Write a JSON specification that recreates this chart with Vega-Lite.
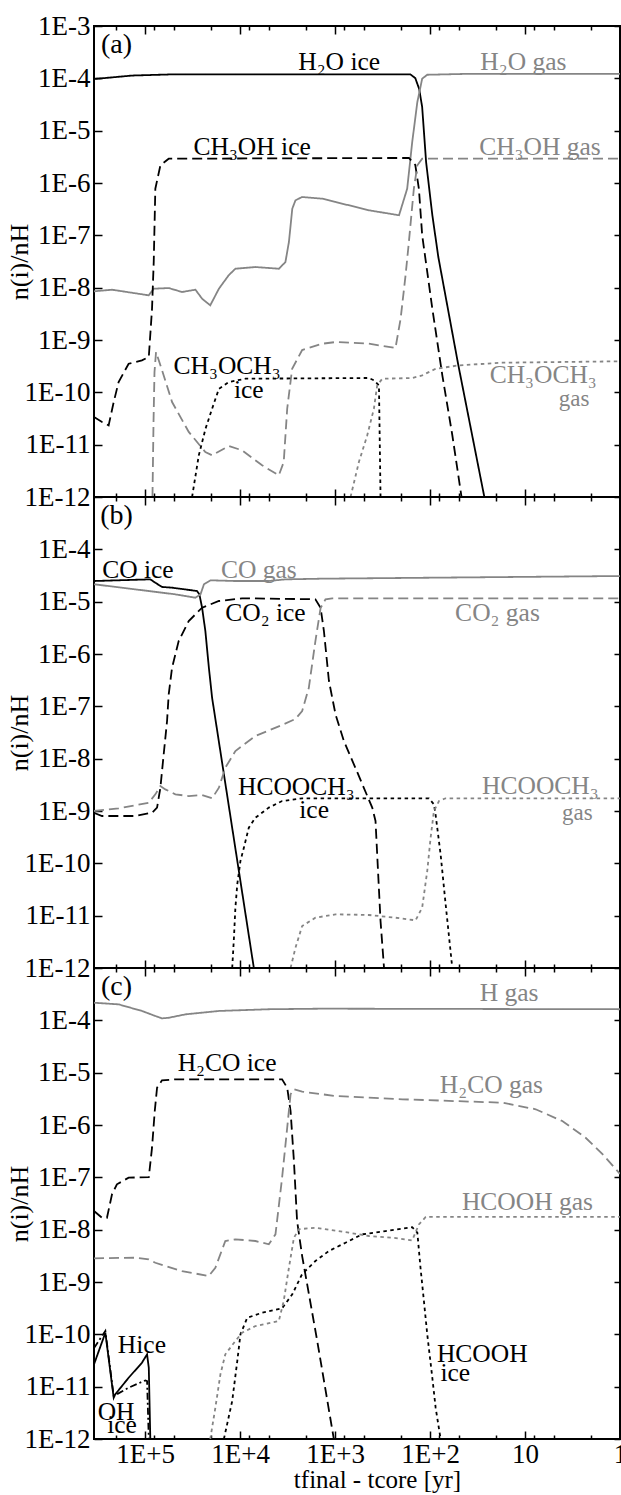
{
"$schema": "https://vega.github.io/schema/vega-lite/v6.json",
"bounds": "flush",
"spacing": 0,
"padding": {"left": 5, "top": 11, "right": 0, "bottom": 0},
"config": {
  "font": "Liberation Serif",
  "view": {"stroke": "black", "strokeWidth": 2},
  "axis": {"labelFont": "Liberation Serif", "titleFont": "Liberation Serif", "labelFontSize": 27, "titleFontSize": 26, "titleFontWeight": "normal", "labelColor": "black", "titleColor": "black", "tickColor": "black", "tickWidth": 1.5, "domain": false, "grid": false, "labelFlush": false, "labelOverlap": false, "labelBound": false},
  "text": {"font": "Liberation Serif"}
},
"datasets": {
"lines": [
{"p":"a","s":"H2O ice","ph":"ice","st":"solid","t":3.45e5,"n":9.7e-5},
{"p":"a","s":"H2O ice","ph":"ice","st":"solid","t":1.37e5,"n":1.13e-4},
{"p":"a","s":"H2O ice","ph":"ice","st":"solid","t":5.2e4,"n":1.19e-4},
{"p":"a","s":"H2O ice","ph":"ice","st":"solid","t":161,"n":1.19e-4},
{"p":"a","s":"H2O ice","ph":"ice","st":"solid","t":143,"n":1.01e-4},
{"p":"a","s":"H2O ice","ph":"ice","st":"solid","t":130,"n":6.25e-5},
{"p":"a","s":"H2O ice","ph":"ice","st":"solid","t":121,"n":2.83e-5},
{"p":"a","s":"H2O ice","ph":"ice","st":"solid","t":110,"n":2.52e-6},
{"p":"a","s":"H2O ice","ph":"ice","st":"solid","t":94.6,"n":2.44e-7},
{"p":"a","s":"H2O ice","ph":"ice","st":"solid","t":81.8,"n":3.85e-8},
{"p":"a","s":"H2O ice","ph":"ice","st":"solid","t":50.4,"n":3.33e-10},
{"p":"a","s":"H2O ice","ph":"ice","st":"solid","t":26.8,"n":1e-12},
{"p":"a","s":"H2O gas","ph":"gas","st":"solid","t":3.45e5,"n":8.51e-9},
{"p":"a","s":"H2O gas","ph":"gas","st":"solid","t":2.23e5,"n":9.14e-9},
{"p":"a","s":"H2O gas","ph":"gas","st":"solid","t":9.16e4,"n":7.14e-9},
{"p":"a","s":"H2O gas","ph":"gas","st":"solid","t":8.11e4,"n":9.55e-9},
{"p":"a","s":"H2O gas","ph":"gas","st":"solid","t":5.64e4,"n":9.84e-9},
{"p":"a","s":"H2O gas","ph":"gas","st":"solid","t":4.08e4,"n":8.26e-9},
{"p":"a","s":"H2O gas","ph":"gas","st":"solid","t":2.95e4,"n":9.14e-9},
{"p":"a","s":"H2O gas","ph":"gas","st":"solid","t":2.51e4,"n":6.15e-9},
{"p":"a","s":"H2O gas","ph":"gas","st":"solid","t":2.06e4,"n":4.6e-9},
{"p":"a","s":"H2O gas","ph":"gas","st":"solid","t":1.67e4,"n":9.55e-9},
{"p":"a","s":"H2O gas","ph":"gas","st":"solid","t":1.32e4,"n":1.72e-8},
{"p":"a","s":"H2O gas","ph":"gas","st":"solid","t":1.12e4,"n":2.3e-8},
{"p":"a","s":"H2O gas","ph":"gas","st":"solid","t":6.89e3,"n":2.48e-8},
{"p":"a","s":"H2O gas","ph":"gas","st":"solid","t":3.9e3,"n":2.3e-8},
{"p":"a","s":"H2O gas","ph":"gas","st":"solid","t":3.33e3,"n":3.09e-8},
{"p":"a","s":"H2O gas","ph":"gas","st":"solid","t":3.06e3,"n":7.45e-8},
{"p":"a","s":"H2O gas","ph":"gas","st":"solid","t":2.82e3,"n":3.23e-7},
{"p":"a","s":"H2O gas","ph":"gas","st":"solid","t":2.61e3,"n":4.67e-7},
{"p":"a","s":"H2O gas","ph":"gas","st":"solid","t":2.22e3,"n":5.4e-7},
{"p":"a","s":"H2O gas","ph":"gas","st":"solid","t":1.36e3,"n":5.01e-7},
{"p":"a","s":"H2O gas","ph":"gas","st":"solid","t":989,"n":4.34e-7},
{"p":"a","s":"H2O gas","ph":"gas","st":"solid","t":440,"n":3.01e-7},
{"p":"a","s":"H2O gas","ph":"gas","st":"solid","t":212,"n":2.42e-7},
{"p":"a","s":"H2O gas","ph":"gas","st":"solid","t":174,"n":7.78e-7},
{"p":"a","s":"H2O gas","ph":"gas","st":"solid","t":154,"n":6.07e-6},
{"p":"a","s":"H2O gas","ph":"gas","st":"solid","t":136,"n":3.53e-5},
{"p":"a","s":"H2O gas","ph":"gas","st":"solid","t":121,"n":9.84e-5},
{"p":"a","s":"H2O gas","ph":"gas","st":"solid","t":107,"n":1.17e-4},
{"p":"a","s":"H2O gas","ph":"gas","st":"solid","t":38.9,"n":1.22e-4},
{"p":"a","s":"H2O gas","ph":"gas","st":"solid","t":1,"n":1.22e-4},
{"p":"a","s":"CH3OH ice","ph":"ice","st":"dashed","t":3.45e5,"n":3.37e-11},
{"p":"a","s":"CH3OH ice","ph":"ice","st":"dashed","t":2.84e5,"n":2.71e-11},
{"p":"a","s":"CH3OH ice","ph":"ice","st":"dashed","t":2.42e5,"n":2.34e-11},
{"p":"a","s":"CH3OH ice","ph":"ice","st":"dashed","t":2.14e5,"n":6.53e-11},
{"p":"a","s":"CH3OH ice","ph":"ice","st":"dashed","t":1.9e5,"n":1.57e-10},
{"p":"a","s":"CH3OH ice","ph":"ice","st":"dashed","t":1.49e5,"n":3.52e-10},
{"p":"a","s":"CH3OH ice","ph":"ice","st":"dashed","t":1.08e5,"n":4.08e-10},
{"p":"a","s":"CH3OH ice","ph":"ice","st":"dashed","t":9.14e4,"n":4.73e-10},
{"p":"a","s":"CH3OH ice","ph":"ice","st":"dashed","t":8.45e4,"n":3.96e-9},
{"p":"a","s":"CH3OH ice","ph":"ice","st":"dashed","t":8.11e4,"n":3.09e-8},
{"p":"a","s":"CH3OH ice","ph":"ice","st":"dashed","t":7.8e4,"n":7.78e-7},
{"p":"a","s":"CH3OH ice","ph":"ice","st":"dashed","t":6.9e4,"n":2.18e-6},
{"p":"a","s":"CH3OH ice","ph":"ice","st":"dashed","t":5.64e4,"n":2.91e-6},
{"p":"a","s":"CH3OH ice","ph":"ice","st":"dashed","t":167,"n":3.01e-6},
{"p":"a","s":"CH3OH ice","ph":"ice","st":"dashed","t":143,"n":2.21e-6},
{"p":"a","s":"CH3OH ice","ph":"ice","st":"dashed","t":131,"n":7.78e-7},
{"p":"a","s":"CH3OH ice","ph":"ice","st":"dashed","t":121,"n":1.01e-7},
{"p":"a","s":"CH3OH ice","ph":"ice","st":"dashed","t":94.6,"n":3.96e-9},
{"p":"a","s":"CH3OH ice","ph":"ice","st":"dashed","t":74.3,"n":2.14e-10},
{"p":"a","s":"CH3OH ice","ph":"ice","st":"dashed","t":58.3,"n":1.53e-11},
{"p":"a","s":"CH3OH ice","ph":"ice","st":"dashed","t":46.6,"n":1e-12},
{"p":"a","s":"CH3OH gas","ph":"gas","st":"dashed","t":8.36e4,"n":1e-12},
{"p":"a","s":"CH3OH gas","ph":"gas","st":"dashed","t":8.15e4,"n":2.71e-11},
{"p":"a","s":"CH3OH gas","ph":"gas","st":"dashed","t":7.96e4,"n":2.44e-10},
{"p":"a","s":"CH3OH gas","ph":"gas","st":"dashed","t":7.67e4,"n":5.89e-10},
{"p":"a","s":"CH3OH gas","ph":"gas","st":"dashed","t":6.64e4,"n":2.67e-10},
{"p":"a","s":"CH3OH gas","ph":"gas","st":"dashed","t":5.2e4,"n":6.53e-11},
{"p":"a","s":"CH3OH gas","ph":"gas","st":"dashed","t":3.47e4,"n":1.75e-11},
{"p":"a","s":"CH3OH gas","ph":"gas","st":"dashed","t":2.32e4,"n":7.23e-12},
{"p":"a","s":"CH3OH gas","ph":"gas","st":"dashed","t":1.97e4,"n":6.25e-12},
{"p":"a","s":"CH3OH gas","ph":"gas","st":"dashed","t":1.32e4,"n":9.42e-12},
{"p":"a","s":"CH3OH gas","ph":"gas","st":"dashed","t":9.53e3,"n":7.8e-12},
{"p":"a","s":"CH3OH gas","ph":"gas","st":"dashed","t":5.86e3,"n":4.03e-12},
{"p":"a","s":"CH3OH gas","ph":"gas","st":"dashed","t":3.91e3,"n":2.59e-12},
{"p":"a","s":"CH3OH gas","ph":"gas","st":"dashed","t":3.47e3,"n":4.66e-12},
{"p":"a","s":"CH3OH gas","ph":"gas","st":"dashed","t":3.19e3,"n":4.86e-11},
{"p":"a","s":"CH3OH gas","ph":"gas","st":"dashed","t":2.83e3,"n":2.82e-10},
{"p":"a","s":"CH3OH gas","ph":"gas","st":"dashed","t":2.22e3,"n":6.43e-10},
{"p":"a","s":"CH3OH gas","ph":"gas","st":"dashed","t":1.36e3,"n":8.49e-10},
{"p":"a","s":"CH3OH gas","ph":"gas","st":"dashed","t":989,"n":9.14e-10},
{"p":"a","s":"CH3OH gas","ph":"gas","st":"dashed","t":440,"n":8.49e-10},
{"p":"a","s":"CH3OH gas","ph":"gas","st":"dashed","t":231,"n":7.03e-10},
{"p":"a","s":"CH3OH gas","ph":"gas","st":"dashed","t":204,"n":2.55e-9},
{"p":"a","s":"CH3OH gas","ph":"gas","st":"dashed","t":181,"n":1.72e-8},
{"p":"a","s":"CH3OH gas","ph":"gas","st":"dashed","t":169,"n":5.98e-8},
{"p":"a","s":"CH3OH gas","ph":"gas","st":"dashed","t":148,"n":7.78e-7},
{"p":"a","s":"CH3OH gas","ph":"gas","st":"dashed","t":136,"n":2.18e-6},
{"p":"a","s":"CH3OH gas","ph":"gas","st":"dashed","t":121,"n":2.91e-6},
{"p":"a","s":"CH3OH gas","ph":"gas","st":"dashed","t":1,"n":2.91e-6},
{"p":"a","s":"CH3OCH3 ice","ph":"ice","st":"dotted","t":3.2e4,"n":1e-12},
{"p":"a","s":"CH3OCH3 ice","ph":"ice","st":"dotted","t":2.72e4,"n":6.25e-12},
{"p":"a","s":"CH3OCH3 ice","ph":"ice","st":"dotted","t":2.31e4,"n":2.02e-11},
{"p":"a","s":"CH3OCH3 ice","ph":"ice","st":"dotted","t":1.97e4,"n":4.86e-11},
{"p":"a","s":"CH3OCH3 ice","ph":"ice","st":"dotted","t":1.67e4,"n":1.17e-10},
{"p":"a","s":"CH3OCH3 ice","ph":"ice","st":"dotted","t":1.32e4,"n":1.57e-10},
{"p":"a","s":"CH3OCH3 ice","ph":"ice","st":"dotted","t":8.79e3,"n":1.82e-10},
{"p":"a","s":"CH3OCH3 ice","ph":"ice","st":"dotted","t":440,"n":1.88e-10},
{"p":"a","s":"CH3OCH3 ice","ph":"ice","st":"dotted","t":390,"n":1.7e-10},
{"p":"a","s":"CH3OCH3 ice","ph":"ice","st":"dotted","t":345,"n":1.36e-10},
{"p":"a","s":"CH3OCH3 ice","ph":"ice","st":"dotted","t":332,"n":1e-12},
{"p":"a","s":"CH3OCH3 gas","ph":"gas","st":"dotted","t":687,"n":1e-12},
{"p":"a","s":"CH3OCH3 gas","ph":"gas","st":"dotted","t":561,"n":4.66e-12},
{"p":"a","s":"CH3OCH3 gas","ph":"gas","st":"dotted","t":458,"n":1.51e-11},
{"p":"a","s":"CH3OCH3 gas","ph":"gas","st":"dotted","t":390,"n":4.86e-11},
{"p":"a","s":"CH3OCH3 gas","ph":"gas","st":"dotted","t":360,"n":1.36e-10},
{"p":"a","s":"CH3OCH3 gas","ph":"gas","st":"dotted","t":318,"n":1.82e-10},
{"p":"a","s":"CH3OCH3 gas","ph":"gas","st":"dotted","t":154,"n":1.88e-10},
{"p":"a","s":"CH3OCH3 gas","ph":"gas","st":"dotted","t":121,"n":2.11e-10},
{"p":"a","s":"CH3OCH3 gas","ph":"gas","st":"dotted","t":87.3,"n":2.82e-10},
{"p":"a","s":"CH3OCH3 gas","ph":"gas","st":"dotted","t":49.5,"n":3.28e-10},
{"p":"a","s":"CH3OCH3 gas","ph":"gas","st":"dotted","t":17.3,"n":3.68e-10},
{"p":"a","s":"CH3OCH3 gas","ph":"gas","st":"dotted","t":1,"n":3.92e-10},
{"p":"b","s":"CO ice","ph":"ice","st":"solid","t":3.45e5,"n":2.48e-5},
{"p":"b","s":"CO ice","ph":"ice","st":"solid","t":8.81e4,"n":2.67e-5},
{"p":"b","s":"CO ice","ph":"ice","st":"solid","t":7.8e4,"n":2.3e-5},
{"p":"b","s":"CO ice","ph":"ice","st":"solid","t":6.64e4,"n":1.91e-5},
{"p":"b","s":"CO ice","ph":"ice","st":"solid","t":5.2e4,"n":1.85e-5},
{"p":"b","s":"CO ice","ph":"ice","st":"solid","t":2.84e4,"n":1.6e-5},
{"p":"b","s":"CO ice","ph":"ice","st":"solid","t":2.68e4,"n":1.38e-5},
{"p":"b","s":"CO ice","ph":"ice","st":"solid","t":2.51e4,"n":7.66e-6},
{"p":"b","s":"CO ice","ph":"ice","st":"solid","t":2.32e4,"n":2.75e-6},
{"p":"b","s":"CO ice","ph":"ice","st":"solid","t":2.13e4,"n":5.47e-7},
{"p":"b","s":"CO ice","ph":"ice","st":"solid","t":1.97e4,"n":1.46e-7},
{"p":"b","s":"CO ice","ph":"ice","st":"solid","t":7.16e3,"n":1e-12},
{"p":"b","s":"CO gas","ph":"gas","st":"solid","t":3.45e5,"n":2.15e-5},
{"p":"b","s":"CO gas","ph":"gas","st":"solid","t":1.27e5,"n":1.72e-5},
{"p":"b","s":"CO gas","ph":"gas","st":"solid","t":4.8e4,"n":1.38e-5},
{"p":"b","s":"CO gas","ph":"gas","st":"solid","t":2.95e4,"n":1.19e-5},
{"p":"b","s":"CO gas","ph":"gas","st":"solid","t":2.61e4,"n":1.38e-5},
{"p":"b","s":"CO gas","ph":"gas","st":"solid","t":2.4e4,"n":2.15e-5},
{"p":"b","s":"CO gas","ph":"gas","st":"solid","t":2.05e4,"n":2.56e-5},
{"p":"b","s":"CO gas","ph":"gas","st":"solid","t":1.12e4,"n":2.48e-5},
{"p":"b","s":"CO gas","ph":"gas","st":"solid","t":4.98e3,"n":2.48e-5},
{"p":"b","s":"CO gas","ph":"gas","st":"solid","t":3.33e3,"n":2.67e-5},
{"p":"b","s":"CO gas","ph":"gas","st":"solid","t":1.36e3,"n":2.75e-5},
{"p":"b","s":"CO gas","ph":"gas","st":"solid","t":1,"n":3.09e-5},
{"p":"b","s":"CO2 ice","ph":"ice","st":"dashed","t":3.45e5,"n":9.27e-10},
{"p":"b","s":"CO2 ice","ph":"ice","st":"dashed","t":2.84e5,"n":8.02e-10},
{"p":"b","s":"CO2 ice","ph":"ice","st":"dashed","t":1.27e5,"n":8.02e-10},
{"p":"b","s":"CO2 ice","ph":"ice","st":"dashed","t":8.45e4,"n":9.27e-10},
{"p":"b","s":"CO2 ice","ph":"ice","st":"dashed","t":7.48e4,"n":1.16e-9},
{"p":"b","s":"CO2 ice","ph":"ice","st":"dashed","t":6.9e4,"n":2.79e-9},
{"p":"b","s":"CO2 ice","ph":"ice","st":"dashed","t":6.37e4,"n":1.21e-8},
{"p":"b","s":"CO2 ice","ph":"ice","st":"dashed","t":5.87e4,"n":5.24e-8},
{"p":"b","s":"CO2 ice","ph":"ice","st":"dashed","t":5.64e4,"n":1.7e-7},
{"p":"b","s":"CO2 ice","ph":"ice","st":"dashed","t":5.2e4,"n":5.47e-7},
{"p":"b","s":"CO2 ice","ph":"ice","st":"dashed","t":4.43e4,"n":1.77e-6},
{"p":"b","s":"CO2 ice","ph":"ice","st":"dashed","t":3.47e4,"n":4.27e-6},
{"p":"b","s":"CO2 ice","ph":"ice","st":"dashed","t":2.51e4,"n":7.67e-6},
{"p":"b","s":"CO2 ice","ph":"ice","st":"dashed","t":1.67e4,"n":1.03e-5},
{"p":"b","s":"CO2 ice","ph":"ice","st":"dashed","t":9.53e3,"n":1.16e-5},
{"p":"b","s":"CO2 ice","ph":"ice","st":"dashed","t":1.61e3,"n":1.11e-5},
{"p":"b","s":"CO2 ice","ph":"ice","st":"dashed","t":1.42e3,"n":7.67e-6},
{"p":"b","s":"CO2 ice","ph":"ice","st":"dashed","t":1.31e3,"n":2.75e-6},
{"p":"b","s":"CO2 ice","ph":"ice","st":"dashed","t":1.16e3,"n":3.05e-7},
{"p":"b","s":"CO2 ice","ph":"ice","st":"dashed","t":989,"n":7.05e-8},
{"p":"b","s":"CO2 ice","ph":"ice","st":"dashed","t":807,"n":2.17e-8},
{"p":"b","s":"CO2 ice","ph":"ice","st":"dashed","t":585,"n":5.56e-9},
{"p":"b","s":"CO2 ice","ph":"ice","st":"dashed","t":406,"n":1.16e-9},
{"p":"b","s":"CO2 ice","ph":"ice","st":"dashed","t":375,"n":6.44e-10},
{"p":"b","s":"CO2 ice","ph":"ice","st":"dashed","t":332,"n":7.91e-12},
{"p":"b","s":"CO2 ice","ph":"ice","st":"dashed","t":305,"n":1e-12},
{"p":"b","s":"CO2 gas","ph":"gas","st":"dashed","t":3.45e5,"n":1.0e-9},
{"p":"b","s":"CO2 gas","ph":"gas","st":"dashed","t":1.9e5,"n":1.12e-9},
{"p":"b","s":"CO2 gas","ph":"gas","st":"dashed","t":9.16e4,"n":1.44e-9},
{"p":"b","s":"CO2 gas","ph":"gas","st":"dashed","t":7.8e4,"n":2.08e-9},
{"p":"b","s":"CO2 gas","ph":"gas","st":"dashed","t":6.9e4,"n":3.0e-9},
{"p":"b","s":"CO2 gas","ph":"gas","st":"dashed","t":6.12e4,"n":2.59e-9},
{"p":"b","s":"CO2 gas","ph":"gas","st":"dashed","t":4.8e4,"n":2.08e-9},
{"p":"b","s":"CO2 gas","ph":"gas","st":"dashed","t":3.47e4,"n":1.93e-9},
{"p":"b","s":"CO2 gas","ph":"gas","st":"dashed","t":2.51e4,"n":2.02e-9},
{"p":"b","s":"CO2 gas","ph":"gas","st":"dashed","t":1.97e4,"n":1.75e-9},
{"p":"b","s":"CO2 gas","ph":"gas","st":"dashed","t":1.67e4,"n":2.79e-9},
{"p":"b","s":"CO2 gas","ph":"gas","st":"dashed","t":1.43e4,"n":6.71e-9},
{"p":"b","s":"CO2 gas","ph":"gas","st":"dashed","t":1.12e4,"n":1.4e-8},
{"p":"b","s":"CO2 gas","ph":"gas","st":"dashed","t":6.89e3,"n":2.71e-8},
{"p":"b","s":"CO2 gas","ph":"gas","st":"dashed","t":3.61e3,"n":4.4e-8},
{"p":"b","s":"CO2 gas","ph":"gas","st":"dashed","t":2.61e3,"n":5.73e-8},
{"p":"b","s":"CO2 gas","ph":"gas","st":"dashed","t":2.22e3,"n":8.13e-8},
{"p":"b","s":"CO2 gas","ph":"gas","st":"dashed","t":1.89e3,"n":2.24e-7},
{"p":"b","s":"CO2 gas","ph":"gas","st":"dashed","t":1.61e3,"n":1.77e-6},
{"p":"b","s":"CO2 gas","ph":"gas","st":"dashed","t":1.42e3,"n":7.57e-6},
{"p":"b","s":"CO2 gas","ph":"gas","st":"dashed","t":1.26e3,"n":1.11e-5},
{"p":"b","s":"CO2 gas","ph":"gas","st":"dashed","t":1.07e3,"n":1.16e-5},
{"p":"b","s":"CO2 gas","ph":"gas","st":"dashed","t":1,"n":1.16e-5},
{"p":"b","s":"HCOOCH3 ice","ph":"ice","st":"dotted","t":1.21e4,"n":1e-12},
{"p":"b","s":"HCOOCH3 ice","ph":"ice","st":"dotted","t":1.16e4,"n":3.79e-12},
{"p":"b","s":"HCOOCH3 ice","ph":"ice","st":"dotted","t":1.12e4,"n":1.42e-11},
{"p":"b","s":"HCOOCH3 ice","ph":"ice","st":"dotted","t":1.07e4,"n":3.97e-11},
{"p":"b","s":"HCOOCH3 ice","ph":"ice","st":"dotted","t":9.91e3,"n":1.11e-10},
{"p":"b","s":"HCOOCH3 ice","ph":"ice","st":"dotted","t":9.12e3,"n":1.99e-10},
{"p":"b","s":"HCOOCH3 ice","ph":"ice","st":"dotted","t":8.09e3,"n":4.8e-10},
{"p":"b","s":"HCOOCH3 ice","ph":"ice","st":"dotted","t":6.89e3,"n":7.45e-10},
{"p":"b","s":"HCOOCH3 ice","ph":"ice","st":"dotted","t":4.98e3,"n":1.16e-9},
{"p":"b","s":"HCOOCH3 ice","ph":"ice","st":"dotted","t":3.61e3,"n":1.55e-9},
{"p":"b","s":"HCOOCH3 ice","ph":"ice","st":"dotted","t":2.22e3,"n":1.75e-9},
{"p":"b","s":"HCOOCH3 ice","ph":"ice","st":"dotted","t":103,"n":1.75e-9},
{"p":"b","s":"HCOOCH3 ice","ph":"ice","st":"dotted","t":91.0,"n":1.34e-9},
{"p":"b","s":"HCOOCH3 ice","ph":"ice","st":"dotted","t":87.5,"n":8.65e-10},
{"p":"b","s":"HCOOCH3 ice","ph":"ice","st":"dotted","t":77.4,"n":1.49e-10},
{"p":"b","s":"HCOOCH3 ice","ph":"ice","st":"dotted","t":68.5,"n":1.65e-11},
{"p":"b","s":"HCOOCH3 ice","ph":"ice","st":"dotted","t":58.3,"n":1e-12},
{"p":"b","s":"HCOOCH3 gas","ph":"gas","st":"dotted","t":2.94e3,"n":1e-12},
{"p":"b","s":"HCOOCH3 gas","ph":"gas","st":"dotted","t":2.61e3,"n":2.44e-12},
{"p":"b","s":"HCOOCH3 gas","ph":"gas","st":"dotted","t":2.22e3,"n":6.34e-12},
{"p":"b","s":"HCOOCH3 gas","ph":"gas","st":"dotted","t":1.61e3,"n":9.14e-12},
{"p":"b","s":"HCOOCH3 gas","ph":"gas","st":"dotted","t":989,"n":1.06e-11},
{"p":"b","s":"HCOOCH3 gas","ph":"gas","st":"dotted","t":440,"n":1.03e-11},
{"p":"b","s":"HCOOCH3 gas","ph":"gas","st":"dotted","t":231,"n":9.14e-12},
{"p":"b","s":"HCOOCH3 gas","ph":"gas","st":"dotted","t":142,"n":8.15e-12},
{"p":"b","s":"HCOOCH3 gas","ph":"gas","st":"dotted","t":121,"n":1.42e-11},
{"p":"b","s":"HCOOCH3 gas","ph":"gas","st":"dotted","t":107,"n":7.13e-11},
{"p":"b","s":"HCOOCH3 gas","ph":"gas","st":"dotted","t":98.6,"n":3.08e-10},
{"p":"b","s":"HCOOCH3 gas","ph":"gas","st":"dotted","t":91.0,"n":1.0e-9},
{"p":"b","s":"HCOOCH3 gas","ph":"gas","st":"dotted","t":80.5,"n":1.55e-9},
{"p":"b","s":"HCOOCH3 gas","ph":"gas","st":"dotted","t":68.5,"n":1.75e-9},
{"p":"b","s":"HCOOCH3 gas","ph":"gas","st":"dotted","t":1,"n":1.75e-9},
{"p":"c","s":"H gas","ph":"gas","st":"solid","t":3.45e5,"n":2.17e-4},
{"p":"c","s":"H gas","ph":"gas","st":"solid","t":1.9e5,"n":2.02e-4},
{"p":"c","s":"H gas","ph":"gas","st":"solid","t":1.08e5,"n":1.51e-4},
{"p":"c","s":"H gas","ph":"gas","st":"solid","t":7.8e4,"n":1.21e-4},
{"p":"c","s":"H gas","ph":"gas","st":"solid","t":6.64e4,"n":1.09e-4},
{"p":"c","s":"H gas","ph":"gas","st":"solid","t":5.64e4,"n":1.12e-4},
{"p":"c","s":"H gas","ph":"gas","st":"solid","t":3.77e4,"n":1.3e-4},
{"p":"c","s":"H gas","ph":"gas","st":"solid","t":1.67e4,"n":1.51e-4},
{"p":"c","s":"H gas","ph":"gas","st":"solid","t":4.98e3,"n":1.63e-4},
{"p":"c","s":"H gas","ph":"gas","st":"solid","t":1.36e3,"n":1.67e-4},
{"p":"c","s":"H gas","ph":"gas","st":"solid","t":1,"n":1.63e-4},
{"p":"c","s":"H2CO ice","ph":"ice","st":"dashed","t":3.45e5,"n":2.27e-8},
{"p":"c","s":"H2CO ice","ph":"ice","st":"dashed","t":2.84e5,"n":1.69e-8},
{"p":"c","s":"H2CO ice","ph":"ice","st":"dashed","t":2.52e5,"n":1.69e-8},
{"p":"c","s":"H2CO ice","ph":"ice","st":"dashed","t":2.23e5,"n":4.74e-8},
{"p":"c","s":"H2CO ice","ph":"ice","st":"dashed","t":1.98e5,"n":7.36e-8},
{"p":"c","s":"H2CO ice","ph":"ice","st":"dashed","t":1.49e5,"n":9.84e-8},
{"p":"c","s":"H2CO ice","ph":"ice","st":"dashed","t":9.14e4,"n":1.01e-7},
{"p":"c","s":"H2CO ice","ph":"ice","st":"dashed","t":8.45e4,"n":3.68e-7},
{"p":"c","s":"H2CO ice","ph":"ice","st":"dashed","t":7.91e4,"n":1.85e-6},
{"p":"c","s":"H2CO ice","ph":"ice","st":"dashed","t":7.48e4,"n":5.16e-6},
{"p":"c","s":"H2CO ice","ph":"ice","st":"dashed","t":6.64e4,"n":7.14e-6},
{"p":"c","s":"H2CO ice","ph":"ice","st":"dashed","t":4.81e4,"n":7.46e-6},
{"p":"c","s":"H2CO ice","ph":"ice","st":"dashed","t":3.61e3,"n":7.46e-6},
{"p":"c","s":"H2CO ice","ph":"ice","st":"dashed","t":3.19e3,"n":5.16e-6},
{"p":"c","s":"H2CO ice","ph":"ice","st":"dashed","t":2.94e3,"n":1.85e-6},
{"p":"c","s":"H2CO ice","ph":"ice","st":"dashed","t":2.71e3,"n":2.05e-7},
{"p":"c","s":"H2CO ice","ph":"ice","st":"dashed","t":2.51e3,"n":1.46e-8},
{"p":"c","s":"H2CO ice","ph":"ice","st":"dashed","t":2.22e3,"n":3.13e-9},
{"p":"c","s":"H2CO ice","ph":"ice","st":"dashed","t":1.54e3,"n":7.45e-11},
{"p":"c","s":"H2CO ice","ph":"ice","st":"dashed","t":1.03e3,"n":1e-12},
{"p":"c","s":"H2CO gas","ph":"gas","st":"dashed","t":3.45e5,"n":2.84e-9},
{"p":"c","s":"H2CO gas","ph":"gas","st":"dashed","t":1.27e5,"n":2.91e-9},
{"p":"c","s":"H2CO gas","ph":"gas","st":"dashed","t":9.16e4,"n":2.71e-9},
{"p":"c","s":"H2CO gas","ph":"gas","st":"dashed","t":7.8e4,"n":2.33e-9},
{"p":"c","s":"H2CO gas","ph":"gas","st":"dashed","t":6.12e4,"n":2.02e-9},
{"p":"c","s":"H2CO gas","ph":"gas","st":"dashed","t":4.08e4,"n":1.62e-9},
{"p":"c","s":"H2CO gas","ph":"gas","st":"dashed","t":2.14e4,"n":1.3e-9},
{"p":"c","s":"H2CO gas","ph":"gas","st":"dashed","t":1.82e4,"n":1.87e-9},
{"p":"c","s":"H2CO gas","ph":"gas","st":"dashed","t":1.43e4,"n":6.07e-9},
{"p":"c","s":"H2CO gas","ph":"gas","st":"dashed","t":1.12e4,"n":6.55e-9},
{"p":"c","s":"H2CO gas","ph":"gas","st":"dashed","t":6.89e3,"n":6.07e-9},
{"p":"c","s":"H2CO gas","ph":"gas","st":"dashed","t":4.98e3,"n":5.25e-9},
{"p":"c","s":"H2CO gas","ph":"gas","st":"dashed","t":4.24e3,"n":8.15e-9},
{"p":"c","s":"H2CO gas","ph":"gas","st":"dashed","t":3.91e3,"n":2.83e-8},
{"p":"c","s":"H2CO gas","ph":"gas","st":"dashed","t":3.61e3,"n":9.84e-8},
{"p":"c","s":"H2CO gas","ph":"gas","st":"dashed","t":3.19e3,"n":8.87e-7},
{"p":"c","s":"H2CO gas","ph":"gas","st":"dashed","t":2.94e3,"n":3.85e-6},
{"p":"c","s":"H2CO gas","ph":"gas","st":"dashed","t":2.71e3,"n":4.81e-6},
{"p":"c","s":"H2CO gas","ph":"gas","st":"dashed","t":2.22e3,"n":4.33e-6},
{"p":"c","s":"H2CO gas","ph":"gas","st":"dashed","t":989,"n":3.58e-6},
{"p":"c","s":"H2CO gas","ph":"gas","st":"dashed","t":196,"n":3.1e-6},
{"p":"c","s":"H2CO gas","ph":"gas","st":"dashed","t":17.3,"n":2.67e-6},
{"p":"c","s":"H2CO gas","ph":"gas","st":"dashed","t":7.73,"n":2.0e-6},
{"p":"c","s":"H2CO gas","ph":"gas","st":"dashed","t":4.05,"n":1.19e-6},
{"p":"c","s":"H2CO gas","ph":"gas","st":"dashed","t":2.3,"n":5.71e-7},
{"p":"c","s":"H2CO gas","ph":"gas","st":"dashed","t":1.52,"n":2.75e-7},
{"p":"c","s":"H2CO gas","ph":"gas","st":"dashed","t":1,"n":1.16e-7},
{"p":"c","s":"HCOOH ice","ph":"ice","st":"dotted","t":1.48e4,"n":1e-12},
{"p":"c","s":"HCOOH ice","ph":"ice","st":"dotted","t":1.21e4,"n":5.32e-12},
{"p":"c","s":"HCOOH ice","ph":"ice","st":"dotted","t":1.07e4,"n":3.09e-11},
{"p":"c","s":"HCOOH ice","ph":"ice","st":"dotted","t":9.91e3,"n":1.0e-10},
{"p":"c","s":"HCOOH ice","ph":"ice","st":"dotted","t":8.41e3,"n":2.07e-10},
{"p":"c","s":"HCOOH ice","ph":"ice","st":"dotted","t":5.85e3,"n":2.59e-10},
{"p":"c","s":"HCOOH ice","ph":"ice","st":"dotted","t":3.61e3,"n":3.14e-10},
{"p":"c","s":"HCOOH ice","ph":"ice","st":"dotted","t":2.82e3,"n":5.81e-10},
{"p":"c","s":"HCOOH ice","ph":"ice","st":"dotted","t":2.22e3,"n":1.42e-9},
{"p":"c","s":"HCOOH ice","ph":"ice","st":"dotted","t":1.61e3,"n":2.52e-9},
{"p":"c","s":"HCOOH ice","ph":"ice","st":"dotted","t":1.16e3,"n":3.91e-9},
{"p":"c","s":"HCOOH ice","ph":"ice","st":"dotted","t":776,"n":5.64e-9},
{"p":"c","s":"HCOOH ice","ph":"ice","st":"dotted","t":518,"n":8.15e-9},
{"p":"c","s":"HCOOH ice","ph":"ice","st":"dotted","t":294,"n":9.42e-9},
{"p":"c","s":"HCOOH ice","ph":"ice","st":"dotted","t":154,"n":1.12e-8},
{"p":"c","s":"HCOOH ice","ph":"ice","st":"dotted","t":136,"n":8.75e-9},
{"p":"c","s":"HCOOH ice","ph":"ice","st":"dotted","t":126,"n":1.87e-9},
{"p":"c","s":"HCOOH ice","ph":"ice","st":"dotted","t":116,"n":4.34e-10},
{"p":"c","s":"HCOOH ice","ph":"ice","st":"dotted","t":107,"n":1.0e-10},
{"p":"c","s":"HCOOH ice","ph":"ice","st":"dotted","t":94.6,"n":1.48e-11},
{"p":"c","s":"HCOOH ice","ph":"ice","st":"dotted","t":87.3,"n":3.96e-12},
{"p":"c","s":"HCOOH ice","ph":"ice","st":"dotted","t":77.4,"n":1e-12},
{"p":"c","s":"HCOOH gas","ph":"gas","st":"dotted","t":2.06e4,"n":1e-12},
{"p":"c","s":"HCOOH gas","ph":"gas","st":"dotted","t":1.82e4,"n":3.96e-12},
{"p":"c","s":"HCOOH gas","ph":"gas","st":"dotted","t":1.61e4,"n":1.72e-11},
{"p":"c","s":"HCOOH gas","ph":"gas","st":"dotted","t":1.43e4,"n":4.15e-11},
{"p":"c","s":"HCOOH gas","ph":"gas","st":"dotted","t":1.12e4,"n":7.45e-11},
{"p":"c","s":"HCOOH gas","ph":"gas","st":"dotted","t":9.53e3,"n":1.07e-10},
{"p":"c","s":"HCOOH gas","ph":"gas","st":"dotted","t":6.89e3,"n":1.44e-10},
{"p":"c","s":"HCOOH gas","ph":"gas","st":"dotted","t":3.91e3,"n":1.79e-10},
{"p":"c","s":"HCOOH gas","ph":"gas","st":"dotted","t":3.47e3,"n":4.34e-10},
{"p":"c","s":"HCOOH gas","ph":"gas","st":"dotted","t":3.06e3,"n":1.87e-9},
{"p":"c","s":"HCOOH gas","ph":"gas","st":"dotted","t":2.71e3,"n":7.02e-9},
{"p":"c","s":"HCOOH gas","ph":"gas","st":"dotted","t":2.4e3,"n":1.02e-8},
{"p":"c","s":"HCOOH gas","ph":"gas","st":"dotted","t":1.61e3,"n":1.09e-8},
{"p":"c","s":"HCOOH gas","ph":"gas","st":"dotted","t":715,"n":8.75e-9},
{"p":"c","s":"HCOOH gas","ph":"gas","st":"dotted","t":440,"n":7.57e-9},
{"p":"c","s":"HCOOH gas","ph":"gas","st":"dotted","t":250,"n":7.02e-9},
{"p":"c","s":"HCOOH gas","ph":"gas","st":"dotted","t":154,"n":6.25e-9},
{"p":"c","s":"HCOOH gas","ph":"gas","st":"dotted","t":131,"n":1.26e-8},
{"p":"c","s":"HCOOH gas","ph":"gas","st":"dotted","t":111,"n":1.75e-8},
{"p":"c","s":"HCOOH gas","ph":"gas","st":"dotted","t":1,"n":1.75e-8},
{"p":"c","s":"H ice","ph":"ice","st":"solid","t":3.45e5,"n":2.67e-11},
{"p":"c","s":"H ice","ph":"ice","st":"solid","t":2.62e5,"n":1.07e-10},
{"p":"c","s":"H ice","ph":"ice","st":"solid","t":2.14e5,"n":6.15e-12},
{"p":"c","s":"H ice","ph":"ice","st":"solid","t":2.06e5,"n":7.14e-12},
{"p":"c","s":"H ice","ph":"ice","st":"solid","t":1.49e5,"n":1.48e-11},
{"p":"c","s":"H ice","ph":"ice","st":"solid","t":1.08e5,"n":2.86e-11},
{"p":"c","s":"H ice","ph":"ice","st":"solid","t":9.53e4,"n":4.15e-11},
{"p":"c","s":"H ice","ph":"ice","st":"solid","t":9.14e4,"n":2.3e-11},
{"p":"c","s":"H ice","ph":"ice","st":"solid","t":8.81e4,"n":1e-12},
{"p":"c","s":"OH ice","ph":"ice","st":"dashdot","t":3.45e5,"n":5.47e-11},
{"p":"c","s":"OH ice","ph":"ice","st":"dashdot","t":2.62e5,"n":1.16e-10},
{"p":"c","s":"OH ice","ph":"ice","st":"dashdot","t":2.14e5,"n":6.62e-12},
{"p":"c","s":"OH ice","ph":"ice","st":"dashdot","t":1.49e5,"n":9.55e-12},
{"p":"c","s":"OH ice","ph":"ice","st":"dashdot","t":9.93e4,"n":1.32e-11},
{"p":"c","s":"OH ice","ph":"ice","st":"dashdot","t":9.53e4,"n":1.28e-11},
{"p":"c","s":"OH ice","ph":"ice","st":"dashdot","t":9.14e4,"n":1e-12}
],
"labels": [
{"p":"a","txt":"(a)","ph":"ice","role":"panel","t":2.0e5,"n":4.37e-4},
{"p":"a","txt":"H₂O ice","ph":"ice","role":"big","t":904,"n":2.05e-4},
{"p":"a","txt":"H₂O gas","ph":"gas","role":"big","t":10.4,"n":2.05e-4},
{"p":"a","txt":"CH₃OH ice","ph":"ice","role":"big","t":7.46e3,"n":4.88e-6},
{"p":"a","txt":"CH₃OH gas","ph":"gas","role":"big","t":6.97,"n":4.88e-6},
{"p":"a","txt":"CH₃OCH₃","ph":"ice","role":"big","t":1.37e4,"n":3.18e-10},
{"p":"a","txt":"ice","ph":"ice","role":"big","t":8.09e3,"n":1.11e-10},
{"p":"a","txt":"CH₃OCH₃","ph":"gas","role":"big","t":6.44,"n":2.14e-10},
{"p":"a","txt":"gas","ph":"gas","role":"small","t":3.04,"n":7.6e-11},
{"p":"b","txt":"(b)","ph":"ice","role":"panel","t":2.0e5,"n":4.37e-4},
{"p":"b","txt":"CO ice","ph":"ice","role":"big","t":1.19e5,"n":4.03e-5},
{"p":"b","txt":"CO gas","ph":"gas","role":"big","t":6.35e3,"n":4.03e-5},
{"p":"b","txt":"CO₂ ice","ph":"ice","role":"big","t":5.41e3,"n":6.07e-6},
{"p":"b","txt":"CO₂ gas","ph":"gas","role":"big","t":19.5,"n":6.07e-6},
{"p":"b","txt":"HCOOCH₃","ph":"ice","role":"big","t":2.56e3,"n":2.87e-9},
{"p":"b","txt":"ice","ph":"ice","role":"big","t":1.66e3,"n":1.04e-9},
{"p":"b","txt":"HCOOCH₃","ph":"gas","role":"big","t":6.89,"n":3.0e-9},
{"p":"b","txt":"gas","ph":"gas","role":"small","t":2.81,"n":9.0e-10},
{"p":"c","txt":"(c)","ph":"ice","role":"panel","t":2.0e5,"n":4.37e-4},
{"p":"c","txt":"H gas","ph":"gas","role":"big","t":14.7,"n":3.33e-4},
{"p":"c","txt":"H₂CO ice","ph":"ice","role":"big","t":1.37e4,"n":1.53e-5},
{"p":"c","txt":"H₂CO gas","ph":"gas","role":"big","t":22.6,"n":5.81e-6},
{"p":"c","txt":"HCOOH gas","ph":"gas","role":"big","t":9.44,"n":3.37e-8},
{"p":"c","txt":"HCOOH","ph":"ice","role":"big","t":28.2,"n":4.21e-11},
{"p":"c","txt":"ice","ph":"ice","role":"big","t":54.2,"n":1.82e-11},
{"p":"c","txt":"Hice","ph":"ice","role":"big","t":1.08e5,"n":6.25e-11},
{"p":"c","txt":"OH","ph":"ice","role":"big","t":2.02e5,"n":3.27e-12},
{"p":"c","txt":"ice","ph":"ice","role":"big","t":1.75e5,"n":1.85e-12}
]
},
"vconcat": [
{
 "width": 526, "height": 471,
 "layer": [
  {"data": {"name": "lines"}, "transform": [{"filter": "datum.p == 'a'"}],
   "mark": {"type": "line", "clip": true, "strokeWidth": 1.8},
   "encoding": {
    "x": {"field": "t", "type": "quantitative", "scale": {"type": "log", "domain": [1, 345000], "reverse": true, "nice": false},
      "axis": {"orient": "bottom", "title": null, "labels": false, "values": [100000, 10000, 1000, 100, 10, 1, 200000, 80000, 50000, 20000, 8000, 5000, 2000, 800, 500, 200, 80, 50, 20, 8, 5, 2],
        "tickSize": {"condition": {"test": "abs(log(datum.value)/LN10 - round(log(datum.value)/LN10)) < 0.001", "value": -8}, "value": -4}}},
    "y": {"field": "n", "type": "quantitative", "scale": {"type": "log", "domain": [1e-12, 1e-3], "nice": false},
      "axis": {"orient": "left", "values": [1e-3, 1e-4, 1e-5, 1e-6, 1e-7, 1e-8, 1e-9, 1e-10, 1e-11, 1e-12], "labelExpr": "'1E' + round(log(datum.value)/LN10)", "tickSize": -8, "labelPadding": 12, "title": "n(i)/nH", "titleX": -75, "titleY": 235.5, "titleBaseline": "middle"}},
    "color": {"field": "ph", "type": "nominal", "scale": {"domain": ["ice", "gas"], "range": ["#000000", "#858585"]}, "legend": null},
    "strokeDash": {"field": "st", "type": "nominal", "scale": {"domain": ["solid", "dashed", "dotted", "dashdot"], "range": [[1, 0], [10, 5], [3.5, 3.5], [7, 3, 2, 3]]}, "legend": null},
    "detail": {"field": "s", "type": "nominal"}
   }},
  {"data": {"name": "labels"}, "transform": [{"filter": "datum.p == 'a'"}],
   "mark": {"type": "text", "font": "Liberation Serif", "align": "center", "baseline": "middle"},
   "encoding": {
    "x": {"field": "t", "type": "quantitative", "scale": {"type": "log", "domain": [1, 345000], "reverse": true, "nice": false},
      "axis": {"orient": "top", "title": null, "labels": false, "values": [100000, 10000, 1000, 100, 10, 1, 200000, 80000, 50000, 20000, 8000, 5000, 2000, 800, 500, 200, 80, 50, 20, 8, 5, 2],
        "tickSize": {"condition": {"test": "abs(log(datum.value)/LN10 - round(log(datum.value)/LN10)) < 0.001", "value": -8}, "value": -4}}},
    "y": {"field": "n", "type": "quantitative", "scale": {"type": "log", "domain": [1e-12, 1e-3], "nice": false},
      "axis": {"orient": "right", "title": null, "labels": false, "values": [1e-3, 1e-4, 1e-5, 1e-6, 1e-7, 1e-8, 1e-9, 1e-10, 1e-11, 1e-12], "tickSize": -6}},
    "text": {"field": "txt"},
    "color": {"field": "ph", "type": "nominal", "scale": {"domain": ["ice", "gas"], "range": ["#000000", "#858585"]}, "legend": null},
    "size": {"field": "role", "type": "ordinal", "scale": {"domain": ["panel", "big", "small"], "range": [28, 23, 16]}, "legend": null}
   }}
 ],
 "resolve": {"axis": {"x": "independent", "y": "independent"}}
},
{
 "width": 526, "height": 471,
 "layer": [
  {"data": {"name": "lines"}, "transform": [{"filter": "datum.p == 'b'"}],
   "mark": {"type": "line", "clip": true, "strokeWidth": 1.8},
   "encoding": {
    "x": {"field": "t", "type": "quantitative", "scale": {"type": "log", "domain": [1, 345000], "reverse": true, "nice": false},
      "axis": {"orient": "bottom", "title": null, "labels": false, "values": [100000, 10000, 1000, 100, 10, 1, 200000, 80000, 50000, 20000, 8000, 5000, 2000, 800, 500, 200, 80, 50, 20, 8, 5, 2],
        "tickSize": {"condition": {"test": "abs(log(datum.value)/LN10 - round(log(datum.value)/LN10)) < 0.001", "value": -8}, "value": -4}}},
    "y": {"field": "n", "type": "quantitative", "scale": {"type": "log", "domain": [1e-12, 1e-3], "nice": false},
      "axis": {"orient": "left", "values": [1e-4, 1e-5, 1e-6, 1e-7, 1e-8, 1e-9, 1e-10, 1e-11, 1e-12], "labelExpr": "'1E' + round(log(datum.value)/LN10)", "tickSize": -8, "labelPadding": 12, "title": "n(i)/nH", "titleX": -75, "titleY": 235.5, "titleBaseline": "middle"}},
    "color": {"field": "ph", "type": "nominal", "scale": {"domain": ["ice", "gas"], "range": ["#000000", "#858585"]}, "legend": null},
    "strokeDash": {"field": "st", "type": "nominal", "scale": {"domain": ["solid", "dashed", "dotted", "dashdot"], "range": [[1, 0], [10, 5], [3.5, 3.5], [7, 3, 2, 3]]}, "legend": null},
    "detail": {"field": "s", "type": "nominal"}
   }},
  {"data": {"name": "labels"}, "transform": [{"filter": "datum.p == 'b'"}],
   "mark": {"type": "text", "font": "Liberation Serif", "align": "center", "baseline": "middle"},
   "encoding": {
    "x": {"field": "t", "type": "quantitative", "scale": {"type": "log", "domain": [1, 345000], "reverse": true, "nice": false},
      "axis": {"orient": "top", "title": null, "labels": false, "values": [100000, 10000, 1000, 100, 10, 1, 200000, 80000, 50000, 20000, 8000, 5000, 2000, 800, 500, 200, 80, 50, 20, 8, 5, 2],
        "tickSize": {"condition": {"test": "abs(log(datum.value)/LN10 - round(log(datum.value)/LN10)) < 0.001", "value": -8}, "value": -4}}},
    "y": {"field": "n", "type": "quantitative", "scale": {"type": "log", "domain": [1e-12, 1e-3], "nice": false},
      "axis": {"orient": "right", "title": null, "labels": false, "values": [1e-4, 1e-5, 1e-6, 1e-7, 1e-8, 1e-9, 1e-10, 1e-11, 1e-12], "tickSize": -6}},
    "text": {"field": "txt"},
    "color": {"field": "ph", "type": "nominal", "scale": {"domain": ["ice", "gas"], "range": ["#000000", "#858585"]}, "legend": null},
    "size": {"field": "role", "type": "ordinal", "scale": {"domain": ["panel", "big", "small"], "range": [28, 23, 16]}, "legend": null}
   }}
 ],
 "resolve": {"axis": {"x": "independent", "y": "independent"}}
},
{
 "width": 526, "height": 471,
 "layer": [
  {"data": {"name": "lines"}, "transform": [{"filter": "datum.p == 'c'"}],
   "mark": {"type": "line", "clip": true, "strokeWidth": 1.8},
   "encoding": {
    "x": {"field": "t", "type": "quantitative", "scale": {"type": "log", "domain": [1, 345000], "reverse": true, "nice": false},
      "axis": {"orient": "bottom", "title": "tfinal - tcore [yr]", "titleFontSize": 25, "titleX": 283, "titleY": 40, "titleBaseline": "middle", "labelPadding": 10,
        "labelExpr": "abs(log(datum.value)/LN10 - round(log(datum.value)/LN10)) < 0.001 ? (datum.value >= 100 ? '1E+' + round(log(datum.value)/LN10) : datum.value >= 10 ? '10' : '1') : ''",
        "values": [100000, 10000, 1000, 100, 10, 1, 200000, 80000, 50000, 20000, 8000, 5000, 2000, 800, 500, 200, 80, 50, 20, 8, 5, 2],
        "tickSize": {"condition": {"test": "abs(log(datum.value)/LN10 - round(log(datum.value)/LN10)) < 0.001", "value": -8}, "value": -4}}},
    "y": {"field": "n", "type": "quantitative", "scale": {"type": "log", "domain": [1e-12, 1e-3], "nice": false},
      "axis": {"orient": "left", "values": [1e-4, 1e-5, 1e-6, 1e-7, 1e-8, 1e-9, 1e-10, 1e-11, 1e-12], "labelExpr": "'1E' + round(log(datum.value)/LN10)", "tickSize": -8, "labelPadding": 12, "title": "n(i)/nH", "titleX": -75, "titleY": 235.5, "titleBaseline": "middle"}},
    "color": {"field": "ph", "type": "nominal", "scale": {"domain": ["ice", "gas"], "range": ["#000000", "#858585"]}, "legend": null},
    "strokeDash": {"field": "st", "type": "nominal", "scale": {"domain": ["solid", "dashed", "dotted", "dashdot"], "range": [[1, 0], [10, 5], [3.5, 3.5], [7, 3, 2, 3]]}, "legend": null},
    "detail": {"field": "s", "type": "nominal"}
   }},
  {"data": {"name": "labels"}, "transform": [{"filter": "datum.p == 'c'"}],
   "mark": {"type": "text", "font": "Liberation Serif", "align": "center", "baseline": "middle"},
   "encoding": {
    "x": {"field": "t", "type": "quantitative", "scale": {"type": "log", "domain": [1, 345000], "reverse": true, "nice": false},
      "axis": {"orient": "top", "title": null, "labels": false, "values": [100000, 10000, 1000, 100, 10, 1, 200000, 80000, 50000, 20000, 8000, 5000, 2000, 800, 500, 200, 80, 50, 20, 8, 5, 2],
        "tickSize": {"condition": {"test": "abs(log(datum.value)/LN10 - round(log(datum.value)/LN10)) < 0.001", "value": -8}, "value": -4}}},
    "y": {"field": "n", "type": "quantitative", "scale": {"type": "log", "domain": [1e-12, 1e-3], "nice": false},
      "axis": {"orient": "right", "title": null, "labels": false, "values": [1e-4, 1e-5, 1e-6, 1e-7, 1e-8, 1e-9, 1e-10, 1e-11, 1e-12], "tickSize": -6}},
    "text": {"field": "txt"},
    "color": {"field": "ph", "type": "nominal", "scale": {"domain": ["ice", "gas"], "range": ["#000000", "#858585"]}, "legend": null},
    "size": {"field": "role", "type": "ordinal", "scale": {"domain": ["panel", "big", "small"], "range": [28, 23, 16]}, "legend": null}
   }}
 ],
 "resolve": {"axis": {"x": "independent", "y": "independent"}}
}
]
}
